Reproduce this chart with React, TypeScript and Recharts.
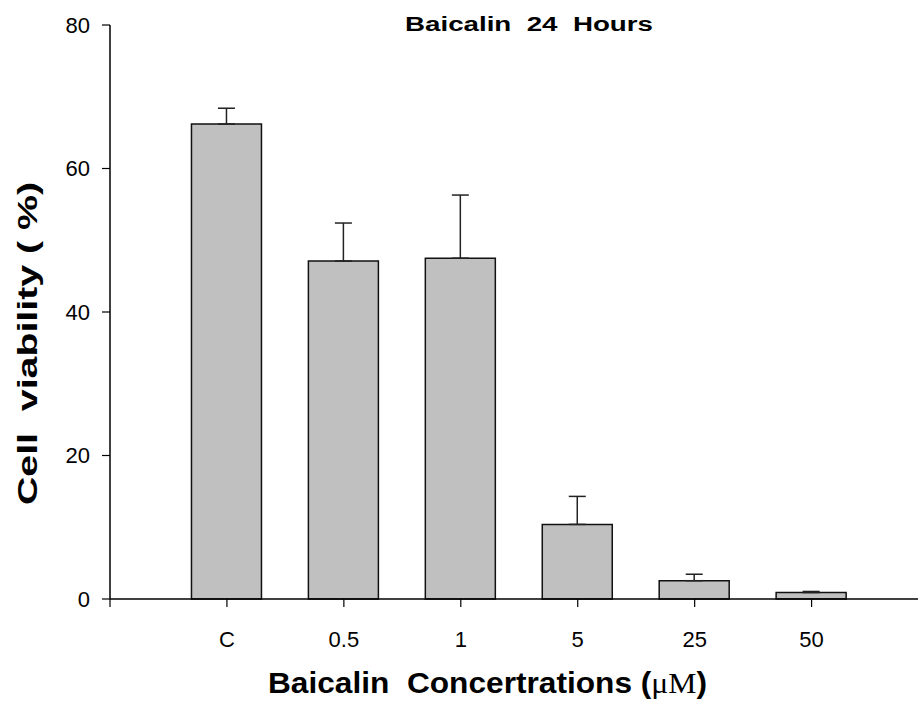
import React from 'react';
import { BarChart, Bar, XAxis, YAxis, ErrorBar } from 'recharts';

const categories = ['C', '0.5', '1', '5', '25', '50'];
const viability = [66.2, 47.1, 47.5, 10.4, 2.55, 0.9];
const sdUpper = [2.2, 5.3, 8.8, 3.9, 0.9, 0.15];
const yTicks = [0, 20, 40, 60, 80];

const data = categories.map((c, i) => ({
  cat: c,
  pos: i + 1,
  value: viability[i],
  err: [0, sdUpper[i]],
}));

const xTicks = [0, ...categories.map((_, i) => i + 1)];
const tickLabel = (v: number) => (v >= 1 && v <= categories.length ? categories[v - 1] : '');

const FONT = '"Liberation Sans", Arial, Helvetica, sans-serif';

const XTick = (props: any) => {
  const { x, y, payload } = props;
  return (
    <text x={x} y={y} dy="0.71em" textAnchor="middle" fill="#000" fontSize={22} fontFamily={FONT}>
      {tickLabel(payload.value)}
    </text>
  );
};

const YTick = (props: any) => {
  const { x, y, payload } = props;
  return (
    <text x={x} y={y} dy="0.355em" textAnchor="end" fill="#000" fontSize={22} fontFamily={FONT}>
      {payload.value}
    </text>
  );
};

export default function App() {
  return (
    <div style={{ position: 'absolute', left: 0, top: 0, width: 920, height: 716, background: '#fff' }}>
      <BarChart
        width={920}
        height={716}
        data={data}
        margin={{ top: 25, right: 2, left: 0, bottom: 0 }}
      >
        <XAxis
          dataKey="pos"
          type="number"
          domain={[0, 6.91]}
          ticks={xTicks}
          allowDataOverflow
          height={117}
          tickSize={8}
          tickMargin={24}
          axisLine={{ stroke: '#000', strokeWidth: 1.5 }}
          tickLine={{ stroke: '#000', strokeWidth: 1.2 }}
          tick={XTick}
        />
        <YAxis
          type="number"
          domain={[0, 80]}
          ticks={yTicks}
          width={110}
          tickSize={8}
          tickMargin={12}
          axisLine={{ stroke: '#000', strokeWidth: 1.5 }}
          tickLine={{ stroke: '#000', strokeWidth: 1.2 }}
          tick={YTick}
        />
        <Bar
          dataKey="value"
          barSize={70}
          fill="#c0c0c0"
          stroke="#111"
          strokeWidth={1.5}
          isAnimationActive={false}
        >
          <ErrorBar dataKey="err" direction="y" width={8.5} stroke="#222" strokeWidth={1.5} />
        </Bar>
        <text
          x={529}
          y={31}
          textAnchor="middle"
          fontFamily={FONT}
          fontWeight="bold"
          fontSize={20}
          fill="#000"
          textLength={248}
          lengthAdjust="spacingAndGlyphs"
          style={{ whiteSpace: 'pre' }}
        >
          Baicalin  24  Hours
        </text>
        <text
          x={487.5}
          y={693}
          textAnchor="middle"
          fontFamily={FONT}
          fontWeight="bold"
          fontSize={29}
          fill="#000"
          textLength={439}
          lengthAdjust="spacingAndGlyphs"
          style={{ whiteSpace: 'pre' }}
        >
          Baicalin  Concertrations (
          <tspan fontFamily='"Liberation Serif", "Times New Roman", serif' fontWeight="normal">μM</tspan>)
        </text>
        <text
          x={37}
          y={343.5}
          transform="rotate(-90 37 343.5)"
          textAnchor="middle"
          fontFamily={FONT}
          fontWeight="bold"
          fontSize={28}
          fill="#000"
          textLength={323}
          lengthAdjust="spacingAndGlyphs"
          style={{ whiteSpace: 'pre' }}
        >
          Cell  viability ( %)
        </text>
      </BarChart>
    </div>
  );
}
